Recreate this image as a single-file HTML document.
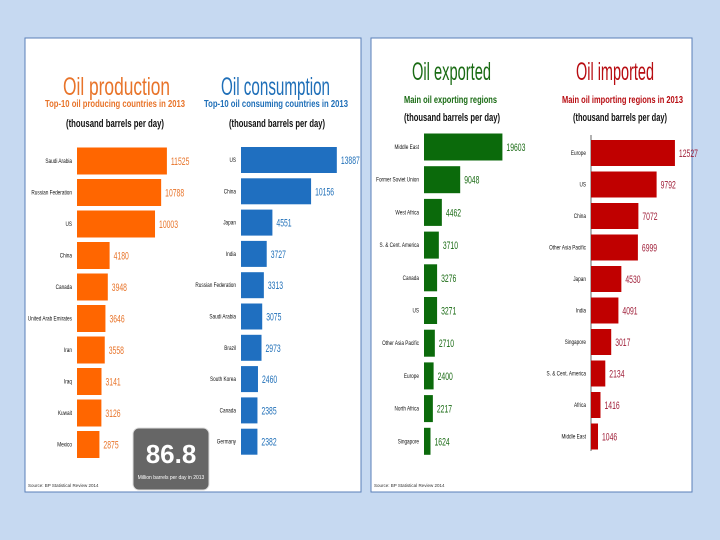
<!DOCTYPE html>
<html><head><meta charset="utf-8"><style>
body{margin:0;background:#c6d9f1;}
svg{display:block;font-family:"Liberation Sans",sans-serif;}
</style></head><body>
<svg id="chart" width="720" height="540" viewBox="0 0 720 540">
<rect x="0" y="0" width="720" height="540" fill="#c6d9f1"/>
<rect x="25" y="38" width="336" height="454" fill="#fff" stroke="#5a7fb8" stroke-width="1"/>
<rect x="371" y="38" width="321" height="454" fill="#fff" stroke="#5a7fb8" stroke-width="1"/>
<text x="63" y="95" font-size="25" textLength="107" lengthAdjust="spacingAndGlyphs" fill="#e8742a">Oil production</text>
<text x="45" y="107" font-size="10" textLength="140" lengthAdjust="spacingAndGlyphs" font-weight="bold" fill="#e8742a">Top-10 oil producing countries in 2013</text>
<text x="66" y="127" font-size="11" textLength="98" lengthAdjust="spacingAndGlyphs" font-weight="bold" fill="#111">(thousand barrels per day)</text>
<text x="221" y="95" font-size="25" textLength="109" lengthAdjust="spacingAndGlyphs" fill="#1f6fb8">Oil consumption</text>
<text x="204" y="107" font-size="10" textLength="144" lengthAdjust="spacingAndGlyphs" font-weight="bold" fill="#1f6fb8">Top-10 oil consuming countries in 2013</text>
<text x="229" y="127" font-size="11" textLength="96" lengthAdjust="spacingAndGlyphs" font-weight="bold" fill="#111">(thousand barrels per day)</text>
<text x="412" y="80" font-size="25" textLength="79" lengthAdjust="spacingAndGlyphs" fill="#1a6b14">Oil exported</text>
<text x="404" y="103" font-size="10" textLength="93" lengthAdjust="spacingAndGlyphs" font-weight="bold" fill="#1a6b14">Main oil exporting regions</text>
<text x="404" y="121" font-size="11" textLength="96" lengthAdjust="spacingAndGlyphs" font-weight="bold" fill="#111">(thousand barrels per day)</text>
<text x="576" y="80" font-size="25" textLength="78" lengthAdjust="spacingAndGlyphs" fill="#b80d12">Oil imported</text>
<text x="562" y="103" font-size="10" textLength="121" lengthAdjust="spacingAndGlyphs" font-weight="bold" fill="#b80d12">Main oil importing regions in 2013</text>
<text x="573" y="121" font-size="11" textLength="94" lengthAdjust="spacingAndGlyphs" font-weight="bold" fill="#111">(thousand barrels per day)</text>
<line x1="591" y1="135" x2="591" y2="451" stroke="#666" stroke-width="1"/>
<text x="28" y="487" font-size="4.5" fill="#333">Source: BP Statistical Review 2014</text>
<text x="374" y="487" font-size="4.5" fill="#333">Source: BP Statistical Review 2014</text>
<rect x="133" y="428" width="76" height="62" rx="6" fill="#666" stroke="#ddd"/>
<text x="171" y="463" text-anchor="middle" font-size="26" font-weight="bold" fill="#fff">86.8</text>
<text x="171" y="479" text-anchor="middle" font-size="5" fill="#fff">Million barrels per day in 2013</text>
<g id="bars"></g>
</svg>
<script>
const prodCats=["Saudi Arabia","Russian Federation","US","China","Canada","United Arab Emirates","Iran","Iraq","Kuwait","Mexico"];
const prodVals=[11525,10788,10003,4180,3948,3646,3558,3141,3126,2875];
const consCats=["US","China","Japan","India","Russian Federation","Saudi Arabia","Brazil","South Korea","Canada","Germany"];
const consVals=[13887,10156,4551,3727,3313,3075,2973,2460,2385,2382];
const expCats=["Middle East","Former Soviet Union","West Africa","S. & Cent. America","Canada","US","Other Asia Pacific","Europe","North Africa","Singapore"];
const expVals=[19603,9048,4462,3710,3276,3271,2710,2400,2217,1624];
const impCats=["Europe","US","China","Other Asia Pacific","Japan","India","Singapore","S. & Cent. America","Africa","Middle East"];
const impVals=[12527,9792,7072,6999,4530,4091,3017,2134,1416,1046];

const NS="http://www.w3.org/2000/svg";
const g=document.getElementById('bars');
function mk(tag,attrs){const e=document.createElementNS(NS,tag);for(const k in attrs)e.setAttribute(k,attrs[k]);g.appendChild(e);return e;}
function condense(t,f){const L=t.getComputedTextLength();if(L>0){t.setAttribute('textLength',(L*f).toFixed(1));t.setAttribute('lengthAdjust','spacingAndGlyphs');}}
function panel(key,cats,vals,x0,scale,y0,step,h,color,valColor){
  cats.forEach((c,i)=>{
    const yc=y0+i*step, w=vals[i]*scale;
    const r=mk('rect',{x:x0,y:yc-h/2,width:w,height:h,fill:color});
    
    
    const l=mk('text',{x:x0-5,y:yc+2,'text-anchor':'end','font-size':6.5,fill:'#111'});
    l.textContent=c;
    
    
    condense(l,0.72);
    const v=mk('text',{x:x0+w+4,y:yc+4,'font-size':11,fill:valColor});
    v.textContent=vals[i];
    
    
    condense(v,0.62);
  });
}
panel('production',prodCats,prodVals,77,0.0078,161,31.5,27,'#ff6600','#e8742a');
panel('consumption',consCats,consVals,241,0.0069,160,31.3,26,'#1f6fc0','#1f6fb8');
panel('exported',expCats,expVals,424,0.004,147,32.7,27,'#0b6a0b','#1a6b14');
panel('imported',impCats,impVals,591,0.0067,153,31.5,26,'#c00000','#a0203a');
</script>
</body></html>
